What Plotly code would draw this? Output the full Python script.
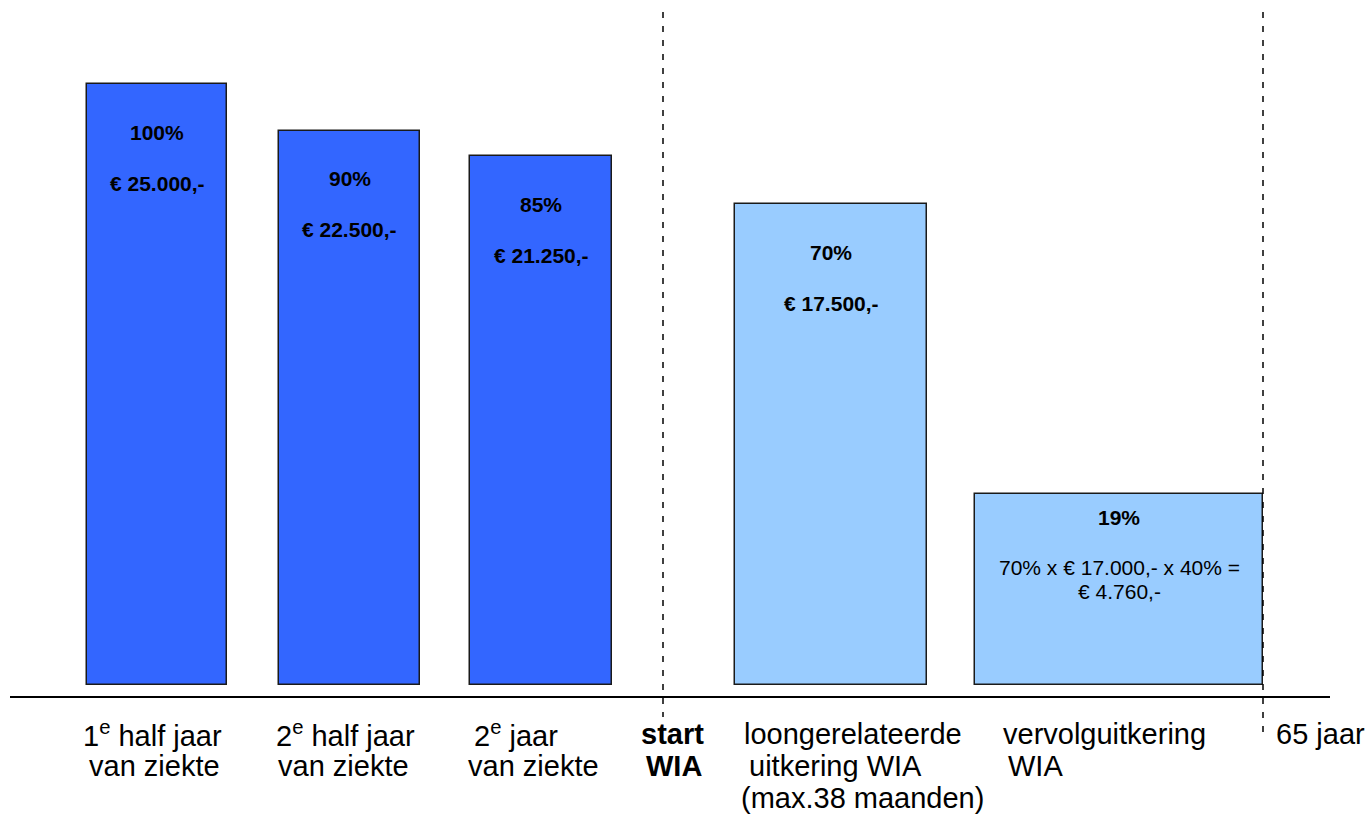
import plotly.graph_objects as go

W, H = 1365, 814

# ---- data ----
bar_heights = [100, 92.2, 88.0, 80.0, 31.8]          # visual bar heights (bar 1 = 100)
bar_centers = [157, 349.5, 541, 831, 1119]             # positions along the timeline axis
bar_widths = [140, 141, 142, 192, 288]
bar_colors = ["#3366FF", "#3366FF", "#3366FF", "#99CCFF", "#99CCFF"]
pct_labels = ["100%", "90%", "85%", "70%", "19%"]
amount_labels = ["€ 25.000,-", "€ 22.500,-", "€ 21.250,-", "€ 17.500,-", None]
calc_lines = ["70% x € 17.000,- x 40% =", "€ 4.760,-"]

category_lines = [
    ["1<sup>e</sup> half jaar", "van ziekte"],
    ["2<sup>e</sup> half jaar", "van ziekte"],
    ["2<sup>e</sup> jaar", "van ziekte"],
    ["<b>start</b>", "<b>WIA</b>"],
    ["loongerelateerde", "uitkering WIA", "(max.38 maanden)"],
    ["vervolguitkering", "WIA"],
    ["65 jaar"],
]
category_left = [[82, 88], [275, 277], [473, 467], [640, 645], [743, 748, 740], [1002, 1007], [1275]]
marker_lines = [663, 1263]   # start WIA, 65 jaar

FONT = "Liberation Sans, Arial, sans-serif"

# pixel -> data mapping helpers (plot area = whole figure)
BASE_PX = 685
PX_PER_UNIT = 6.01
y_top = BASE_PX / PX_PER_UNIT
y_bot = (BASE_PX - H) / PX_PER_UNIT


def py(px):
    return 1 - px / H


def px_x(px):
    return px / W


fig = go.Figure()
fig.add_trace(go.Bar(
    x=bar_centers,
    y=bar_heights,
    width=bar_widths,
    marker=dict(color=bar_colors, line=dict(color="#1a1a1a", width=1.5)),
    hoverinfo="skip",
))

BAR_FS = 21
ann = []
for i, (c, h) in enumerate(zip(bar_centers, bar_heights)):
    if amount_labels[i] is not None:
        ann.append(dict(x=c, y=h, xref="x", yref="y", text=f"<b>{pct_labels[i]}</b>",
                        showarrow=False, yshift=-48, font=dict(size=BAR_FS, color="black", family=FONT)))
        ann.append(dict(x=c, y=h, xref="x", yref="y", text=f"<b>{amount_labels[i]}</b>",
                        showarrow=False, yshift=-99, font=dict(size=BAR_FS, color="black", family=FONT)))
    else:
        ann.append(dict(x=c, y=h, xref="x", yref="y", text=f"<b>{pct_labels[i]}</b>",
                        showarrow=False, yshift=-24, font=dict(size=BAR_FS, color="black", family=FONT)))
        for j, t in enumerate(calc_lines):
            ann.append(dict(x=c, y=h, xref="x", yref="y", text=t,
                            showarrow=False, yshift=-74 - 24 * j,
                            font=dict(size=BAR_FS, color="black", family=FONT)))

line_centers_px = [734, 766, 798]
for lines, lefts in zip(category_lines, category_left):
    for k, (t, lx) in enumerate(zip(lines, lefts)):
        ann.append(dict(x=px_x(lx), y=py(line_centers_px[k]), xref="paper", yref="paper",
                        text=t, showarrow=False, xanchor="left", yanchor="middle",
                        borderpad=0, font=dict(size=29, color="black", family=FONT)))

shapes = [
    dict(type="line", xref="x", yref="paper", x0=10, x1=1330, y0=py(697), y1=py(697),
         line=dict(color="black", width=2)),
    dict(type="line", xref="x", yref="paper", x0=marker_lines[0], x1=marker_lines[0],
         y0=py(12), y1=py(717), line=dict(color="black", width=1.5, dash="6px,8px")),
    dict(type="line", xref="x", yref="paper", x0=marker_lines[1], x1=marker_lines[1],
         y0=py(12), y1=py(735), line=dict(color="black", width=1.5, dash="6px,8px")),
]

fig.update_layout(
    width=W, height=H,
    margin=dict(l=0, r=0, t=0, b=0),
    paper_bgcolor="white", plot_bgcolor="white",
    showlegend=False,
    xaxis=dict(range=[0, W], visible=False, fixedrange=True),
    yaxis=dict(range=[y_bot, y_top], visible=False, fixedrange=True),
    annotations=ann,
    shapes=shapes,
    bargap=0,
)

fig.write_html("out.html", config={"displayModeBar": False},
               post_script="document.body.style.margin='0px';document.body.style.overflow='hidden';")
